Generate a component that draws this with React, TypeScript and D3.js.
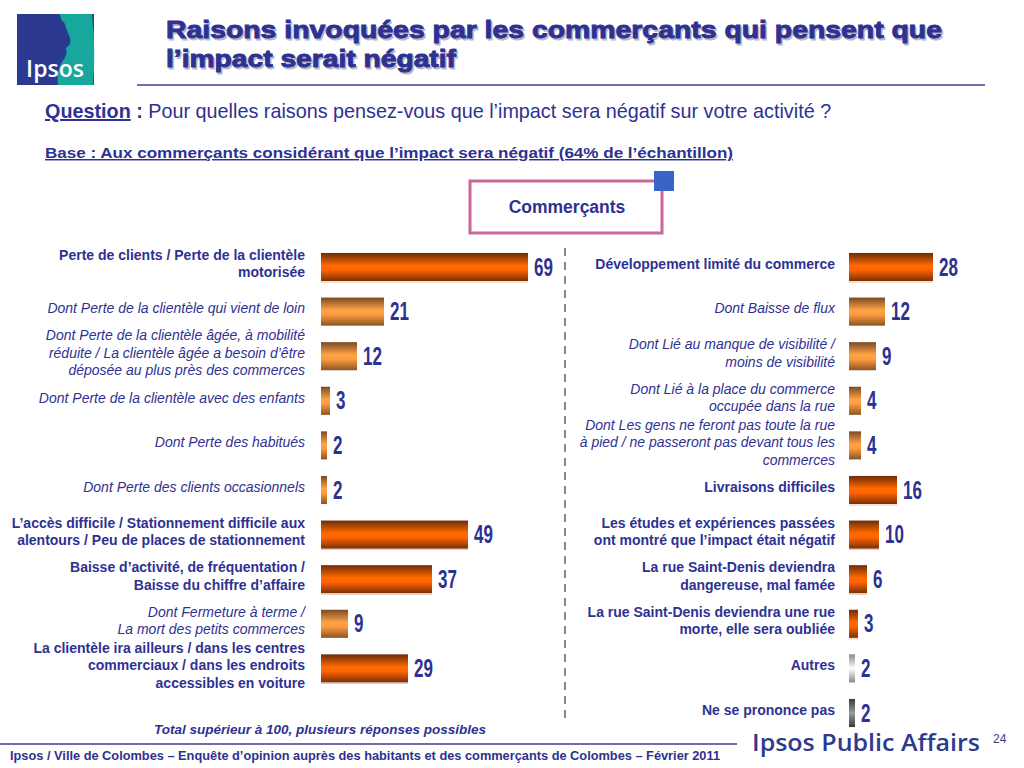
import React from "react";
import * as d3 from "d3";

const leftLabels: string[][] = [
  ["Perte de clients / Perte de la clientèle", "motorisée"],
  ["Dont Perte de la clientèle qui vient de loin"],
  ["Dont Perte de la clientèle âgée, à mobilité", "réduite / La clientèle âgée a besoin d’être", "déposée au plus près des commerces"],
  ["Dont Perte de la clientèle avec des enfants"],
  ["Dont Perte des habitués"],
  ["Dont Perte des clients occasionnels"],
  ["L’accès difficile / Stationnement difficile aux", "alentours / Peu de places de stationnement"],
  ["Baisse d’activité, de fréquentation /", "Baisse du chiffre d’affaire"],
  ["Dont Fermeture à terme /", "La mort des petits commerces"],
  ["La clientèle ira ailleurs / dans les centres", "commerciaux / dans les endroits", "accessibles en voiture"],
];
const leftValues: number[] = [69, 21, 12, 3, 2, 2, 49, 37, 9, 29];
const leftTypes: string[] = ["main", "sub", "sub", "sub", "sub", "sub", "main", "main", "sub", "main"];

const rightLabels: string[][] = [
  ["Développement limité du commerce"],
  ["Dont Baisse de flux"],
  ["Dont Lié au manque de visibilité /", "moins de visibilité"],
  ["Dont Lié à la place du commerce", "occupée dans la rue"],
  ["Dont Les gens ne feront pas toute la rue", "à pied / ne passeront pas devant tous les", "commerces"],
  ["Livraisons difficiles"],
  ["Les études et expériences passées", "ont montré que l’impact était négatif"],
  ["La rue Saint-Denis deviendra", "dangereuse, mal famée"],
  ["La rue Saint-Denis deviendra une rue", "morte, elle sera oubliée"],
  ["Autres"],
  ["Ne se prononce pas"],
];
const rightValues: number[] = [28, 12, 9, 4, 4, 16, 10, 6, 3, 2, 2];
const rightTypes: string[] = ["main", "sub", "sub", "sub", "sub", "main", "main", "main", "main", "other", "nsp"];

const BLUE = "#2E3192";
const FONT = "'Liberation Sans', Arial, sans-serif";

const x = d3.scaleLinear().domain([0, 100]).range([0, 300]);
const y = d3
  .scaleBand<number>()
  .domain(d3.range(11))
  .range([244.7, 735.3])
  .paddingInner(0.37)
  .paddingOuter(0.185);

const fillFor = (t: string) => `url(#grad-${t})`;

function Label({ lines, xr, cy, type }: { lines: string[]; xr: number; cy: number; type: string }) {
  const lh = 17.5;
  const italic = type === "sub";
  const first = cy - ((lines.length - 1) / 2) * lh - 2;
  return (
    <text
      x={xr}
      textAnchor="end"
      fontFamily={FONT}
      fontSize={14}
      fontWeight={italic ? 400 : 700}
      fontStyle={italic ? "italic" : "normal"}
      fill={BLUE}
    >
      {lines.map((l, i) => (
        <tspan key={i} x={xr} y={first + i * lh} dominantBaseline="middle">
          {l}
        </tspan>
      ))}
    </text>
  );
}

function Value({ v, xl, cy }: { v: number; xl: number; cy: number }) {
  return (
    <g transform={`translate(${xl},${cy}) scale(0.68,1)`}>
      <text x={0} y={8.5} fontFamily={FONT} fontWeight={700} fontSize={25} fill={BLUE}>
        {v}
      </text>
    </g>
  );
}

function Bars({ values, types, labels, x0, labelX }: { values: number[]; types: string[]; labels: string[][]; x0: number; labelX: number }) {
  return (
    <g>
      {values.map((v, i) => {
        const top = y(i)!;
        const h = y.bandwidth();
        const cy = top + h / 2;
        const w = x(v);
        return (
          <g key={i}>
            <rect x={x0} y={top} width={w} height={h} fill={fillFor(types[i])} />
            {types[i] === "main" && (
              <line x1={x0} x2={x0 + w} y1={top + h + 1} y2={top + h + 1} stroke="#e8c8b0" strokeWidth={1} />
            )}
            <Value v={v} xl={x0 + w + 6} cy={cy} />
            <Label lines={labels[i]} xr={labelX} cy={cy} type={types[i]} />
          </g>
        );
      })}
    </g>
  );
}

export default function App() {
  return (
    <svg width={1024} height={768} style={{ position: "absolute", left: 0, top: 0, background: "#fff" }}>
      <defs>
        <linearGradient id="grad-main" x1="0" y1="0" x2="0" y2="1">
          <stop offset="0" stopColor="#6e2c08" />
          <stop offset="0.45" stopColor="#ff6a00" />
          <stop offset="0.6" stopColor="#ff6400" />
          <stop offset="1" stopColor="#7a3008" />
        </linearGradient>
        <linearGradient id="grad-sub" x1="0" y1="0" x2="0" y2="1">
          <stop offset="0" stopColor="#7a4a22" />
          <stop offset="0.45" stopColor="#ffa346" />
          <stop offset="0.6" stopColor="#ff9d3e" />
          <stop offset="1" stopColor="#8a5424" />
        </linearGradient>
        <linearGradient id="grad-other" x1="0" y1="0" x2="0" y2="1">
          <stop offset="0" stopColor="#8a8a8a" />
          <stop offset="0.5" stopColor="#ffffff" />
          <stop offset="1" stopColor="#8a8a8a" />
        </linearGradient>
        <linearGradient id="grad-nsp" x1="0" y1="0" x2="0" y2="1">
          <stop offset="0" stopColor="#3a3a3a" />
          <stop offset="0.5" stopColor="#9a9a9a" />
          <stop offset="1" stopColor="#3a3a3a" />
        </linearGradient>
      </defs>

      {/* Logo */}
      <rect x={17} y={14} width={77} height={71} fill="#2B3990" />
      <path d="M60,14 L92,14 Q96,50 93,85 L58,85 Q56,72 62,62 Q68,55 66,48 Q72,44 70,38 Q67,30 64,24 Q60,18 60,14 Z" fill="#17A79D" />
      <path d="M52,22 Q58,16 64,22 Q68,30 66,40 Q66,48 60,52 Q54,54 50,46 Q46,36 48,28 Z" fill="#2B3990" opacity={0.9} />
      <text x={55} y={77} textAnchor="middle" fontFamily="'Open Sans', sans-serif" fontWeight={600} fontSize={23} fill="#fff">
        Ipsos
      </text>

      {/* Title */}
      <g fontFamily={FONT} fontWeight={900} fontSize={24} fill={BLUE} stroke={BLUE} strokeWidth={0.9}>
        <text x={166} y={38} fill="#b8b8c8" stroke="#b8b8c8" transform="translate(1.5,1.5)" textLength={776} lengthAdjust="spacingAndGlyphs">
          Raisons invoquées par les commerçants qui pensent que
        </text>
        <text x={166} y={67} fill="#b8b8c8" stroke="#b8b8c8" transform="translate(1.5,1.5)" textLength={290} lengthAdjust="spacingAndGlyphs">
          l’impact serait négatif
        </text>
        <text x={166} y={38} textLength={776} lengthAdjust="spacingAndGlyphs">
          Raisons invoquées par les commerçants qui pensent que
        </text>
        <text x={166} y={67} textLength={290} lengthAdjust="spacingAndGlyphs">
          l’impact serait négatif
        </text>
      </g>
      <line x1={137} x2={985} y1={85} y2={85} stroke="#3a3f95" strokeWidth={1.5} />

      {/* Question */}
      <text x={45} y={118} fontFamily={FONT} fontSize={19.8} fill={BLUE}>
        <tspan fontWeight={700} textDecoration="underline">Question</tspan>
        <tspan fontWeight={700}> : </tspan>
        <tspan>Pour quelles raisons pensez-vous que l’impact sera négatif sur votre activité ?</tspan>
      </text>
      <text x={45} y={158} fontFamily={FONT} fontSize={14.5} fontWeight={700} fill={BLUE} textDecoration="underline" textLength={688} lengthAdjust="spacingAndGlyphs">
        Base : Aux commerçants considérant que l’impact sera négatif (64% de l’échantillon)
      </text>

      {/* Legend box */}
      <rect x={470} y={181} width={192} height={52} fill="#fff" stroke="#C8689C" strokeWidth={3} />
      <rect x={654} y={171} width={20} height={20} fill="#3A63C8" />
      <text x={567} y={213} textAnchor="middle" fontFamily={FONT} fontSize={17.5} fontWeight={700} fill={BLUE}>
        Commerçants
      </text>

      {/* Divider */}
      <line x1={565} x2={565} y1={248} y2={718} stroke="#8a8a8a" strokeWidth={2} strokeDasharray="8 6" />

      <Bars values={leftValues} types={leftTypes} labels={leftLabels} x0={321} labelX={305} />
      <Bars values={rightValues} types={rightTypes} labels={rightLabels} x0={849} labelX={835} />

      <text x={320} y={734} textAnchor="middle" fontFamily={FONT} fontSize={13.5} fontWeight={700} fontStyle="italic" fill={BLUE}>
        Total supérieur à 100, plusieurs réponses possibles
      </text>

      {/* Footer */}
      <line x1={0} x2={737} y1={744} y2={744} stroke="#3a3f95" strokeWidth={1.5} />
      <text x={10} y={760} fontFamily={FONT} fontSize={12.5} fontWeight={700} fill={BLUE} textLength={710} lengthAdjust="spacingAndGlyphs">
        Ipsos / Ville de Colombes – Enquête d’opinion auprès des habitants et des commerçants de Colombes – Février 2011
      </text>
      <text x={752} y={751} fontFamily="'Open Sans', sans-serif" fontSize={22.5} fontWeight={600} fill="#2E3A8C" textLength={228} lengthAdjust="spacingAndGlyphs">
        Ipsos Public Affairs
      </text>
      <text x={993} y={743} fontFamily={FONT} fontSize={12} fill="#3a3f7a">
        24
      </text>
    </svg>
  );
}
